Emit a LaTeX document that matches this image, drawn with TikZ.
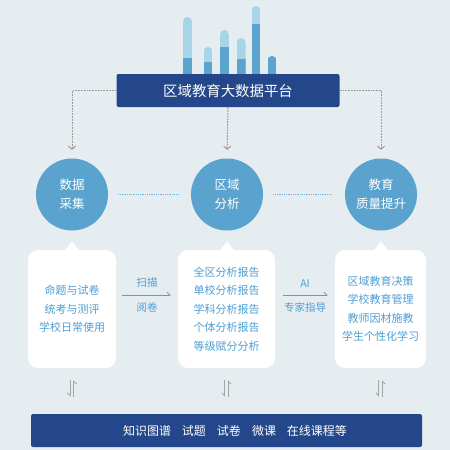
\documentclass[tikz,border=0pt]{standalone}
\usepackage{fontspec}
\setmainfont{Noto Sans CJK SC}
\usetikzlibrary{arrows.meta}
\definecolor{bgcol}{HTML}{E6EDF0}
\definecolor{navy}{HTML}{23478A}
\definecolor{circcol}{HTML}{5AA3CE}
\definecolor{barlight}{HTML}{A8D4E7}
\definecolor{bardark}{HTML}{5CA4CF}
\definecolor{txtblue}{HTML}{4E9ED6}
\definecolor{dotblue}{HTML}{6DB0DA}
\definecolor{greyline}{HTML}{8E8E8E}
\begin{document}
\begin{tikzpicture}[x=1pt,y=-1pt]
\tikzstyle{banner}=[fill=navy,rounded corners=2pt,text=white,inner sep=0pt]
\tikzstyle{stage}=[circle,fill=circcol,minimum size=72pt,inner sep=0pt,text=white,align=center,font=\fontsize{12.5}{19}\selectfont]
\tikzstyle{card}=[fill=white,rounded corners=10pt,minimum height=118pt,inner sep=0pt,text=txtblue,align=center,font=\fontsize{11}{18.5}\selectfont]
\tikzstyle{dashconn}=[draw=greyline!90,dash pattern=on 1.8pt off 1pt,line width=1pt,-{Straight Barb[length=3pt,width=7pt]}]
\tikzstyle{dotconn}=[draw=dotblue,dash pattern=on 1pt off 0.8pt,line width=0.7pt]
\tikzstyle{flow}=[draw=greyline,line width=0.7pt,-{Straight Barb[left,length=3pt,width=6pt]}]
\tikzstyle{harp}=[draw=greyline!80,line width=0.8pt,-{Straight Barb[right,length=3pt,width=6pt]}]
\tikzstyle{flowlabel}=[text=txtblue,font=\fontsize{10.5}{12}\selectfont]
% background
\fill[bgcol] (0,0) rectangle (450,450);
% bar chart above the platform
\foreach \x/\t/\d in {187.5/17/58, 208/47/62, 224.5/30/47, 241/38/59, 256/6/24, 272/56/56}{
  \begin{scope}
    \clip[rounded corners=4.5pt] (\x-4.5,80) -- (\x-4.5,\t) -- (\x+4.5,\t) -- (\x+4.5,80) -- cycle;
    \fill[barlight] (\x-4.5,\t) rectangle (\x+4.5,80);
    \fill[bardark] (\x-4.5,\d) rectangle (\x+4.5,80);
  \end{scope}
}
\node[banner,minimum width=223pt,minimum height=33pt,font=\fontsize{14.4}{16}\selectfont] (platform) at (228,90.5) {区域教育大数据平台};
% three stages
\node[stage] (collect) at (72,194.5) {数据\\采集};
\node[stage] (analyse) at (227,194.5) {区域\\分析};
\node[stage] (improve) at (381,194.5) {教育\\质量提升};
\draw[dashconn,shorten >=8.5pt] (platform.west) -| (collect.north);
\draw[dashconn,shorten >=8.5pt] (platform.south) -- (analyse.north);
\draw[dashconn,shorten >=8.5pt] (platform.east) -| (improve.north);
\draw[dotconn,shorten <=10pt,shorten >=13pt] (collect.east) -- (analyse.west);
\draw[dotconn,shorten <=10pt,shorten >=13pt] (analyse.east) -- (improve.west);
% cards
\node[card,minimum width=88pt] (srccard) at (72,309) {命题与试卷\\统考与测评\\学校日常使用};
\node[card,minimum width=97pt] (repcard) at (226.5,309) {全区分析报告\\单校分析报告\\学科分析报告\\个体分析报告\\等级赋分分析};
\node[card,minimum width=91pt] (usecard) at (380.5,309) {区域教育决策\\学校教育管理\\教师因材施教\\学生个性化学习};
\foreach \c/\x in {srccard/72, repcard/227, usecard/381}
  \fill[white] (\x-7.5,251) -- (\x,241.5) -- (\x+7.5,251) -- cycle;
\draw[flow,shorten <=6pt,shorten >=7pt] ([yshift=14pt]srccard.east) -- ([yshift=14pt]repcard.west)
  node[flowlabel,midway,above=4pt] (scan) {扫描}
  node[flowlabel,midway,below=4pt] (mark) {阅卷};
\draw[flow,shorten <=8pt,shorten >=7pt] ([yshift=14pt]repcard.east) -- ([yshift=14pt]usecard.west)
  node[flowlabel,midway,above=4pt] (ai) {AI}
  node[flowlabel,midway,below=4pt] (expert) {专家指导};
% resource bar
\node[banner,minimum width=391pt,minimum height=33pt] (resources) at (226.5,430.5) {};
\node[text=white,font=\fontsize{12}{14}\selectfont] (restext) at ([xshift=8.5pt]resources.center) {知识图谱\hspace{11pt}试题\hspace{11pt}试卷\hspace{11pt}微课\hspace{11pt}在线课程等};
\foreach \c in {srccard,repcard,usecard}{
  \draw[harp,shorten <=12pt,shorten >=17pt] ([xshift=-1.7pt]\c.south) -- ([xshift=-1.7pt]\c.south |- resources.north);
  \draw[harp,shorten <=17pt,shorten >=12pt] ([xshift=1.7pt]\c.south |- resources.north) -- ([xshift=1.7pt]\c.south);
}
\end{tikzpicture}
\end{document}
